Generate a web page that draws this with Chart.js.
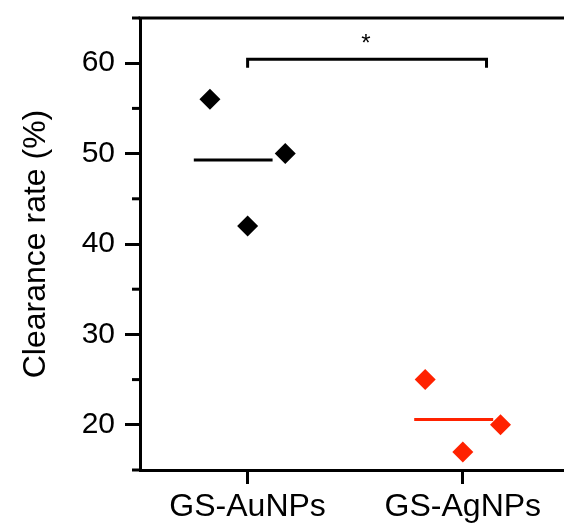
<!DOCTYPE html>
<html>
<head>
<meta charset="utf-8">
<script src="https://cdn.jsdelivr.net/npm/chart.js@4"></script>
<style>
  html, body { margin: 0; padding: 0; background: #ffffff; overflow: hidden; }
  #wrap { width: 564px; height: 527px; position: relative; }
</style>
</head>
<body>
<div id="wrap"><canvas id="c"></canvas></div>
<script>
// ---- data ----
const categories = ['GS-AuNPs', 'GS-AgNPs'];
const auValues = [56, 50, 42];
const agValues = [25, 20, 17];
const pointOffsets = [-0.175, 0.175, 0];      // horizontal scatter of the points within a group
const groupMeans = [49.3, 20.6];
const meanLineStart = [-0.25, -0.226];
const meanLineEnd = [0.116, 0.141];
const yMajorTicks = [20, 30, 40, 50, 60];
const yMinorTicks = [15, 25, 35, 45, 55, 65];
const bracketX = [1, 1, 2.11, 2.11];
const bracketY = [59.5, 60.45, 60.45, 59.5];
const sigLabel = { text: '*', x: 1.55, y: 62.6 };
const yTitle = 'Clearance rate (%)';

const BLACK = '#000000';
const RED = '#ff2200';
const FONT = '"Liberation Sans", Arial, Helvetica, sans-serif';

function groupPoints(values, g) {
  return values.map((v, i) => ({ x: g + 1 + pointOffsets[i], y: v }));
}
function meanLine(g) {
  return [
    { x: g + 1 + meanLineStart[g], y: groupMeans[g] },
    { x: g + 1 + meanLineEnd[g], y: groupMeans[g] }
  ];
}
function noPad(s) {
  s.paddingTop = 0; s.paddingBottom = 0; s.paddingLeft = 0; s.paddingRight = 0;
}

const decor = {
  id: 'decor',
  afterDraw(chart) {
    const ctx = chart.ctx;
    const a = chart.chartArea;
    const y = chart.scales.y;
    const x = chart.scales.x;
    ctx.save();
    ctx.strokeStyle = BLACK;
    ctx.lineWidth = 3;
    // top frame line
    ctx.beginPath();
    ctx.moveTo(a.left - 1.5, a.top);
    ctx.lineTo(chart.width, a.top);
    ctx.stroke();
    // minor y ticks
    yMinorTicks.forEach(v => {
      const py = y.getPixelForValue(v);
      ctx.beginPath();
      ctx.moveTo(a.left - 8, py);
      ctx.lineTo(a.left, py);
      ctx.stroke();
    });
    // significance label
    ctx.fillStyle = BLACK;
    ctx.font = '24px ' + FONT;
    ctx.textAlign = 'center';
    ctx.textBaseline = 'middle';
    ctx.fillText(sigLabel.text, x.getPixelForValue(sigLabel.x), y.getPixelForValue(sigLabel.y) + 5);
    ctx.restore();
  }
};

new Chart(document.getElementById('c'), {
  type: 'scatter',
  data: {
    datasets: [
      {
        label: categories[0],
        data: groupPoints(auValues, 0),
        pointStyle: 'rectRot',
        pointRadius: 10.5,
        backgroundColor: BLACK,
        borderWidth: 0
      },
      {
        label: categories[1],
        data: groupPoints(agValues, 1),
        pointStyle: 'rectRot',
        pointRadius: 10.5,
        backgroundColor: RED,
        borderWidth: 0
      },
      {
        type: 'line',
        label: 'mean Au',
        data: meanLine(0),
        borderColor: BLACK,
        borderWidth: 3,
        pointRadius: 0
      },
      {
        type: 'line',
        label: 'mean Ag',
        data: meanLine(1),
        borderColor: RED,
        borderWidth: 3,
        pointRadius: 0
      },
      {
        type: 'line',
        label: 'bracket',
        data: bracketX.map((bx, i) => ({ x: bx, y: bracketY[i] })),
        borderColor: BLACK,
        borderWidth: 3,
        pointRadius: 0
      }
    ]
  },
  options: {
    responsive: true,
    maintainAspectRatio: false,
    animation: false,
    events: [],
    layout: { autoPadding: false, padding: { top: 18, left: 0, right: 0, bottom: 0 } },
    plugins: {
      legend: { display: false },
      tooltip: { enabled: false }
    },
    scales: {
      x: {
        type: 'linear',
        min: 0.5,
        max: 2.47,
        afterBuildTicks: s => { s.ticks = categories.map((c, i) => ({ value: i + 1 })); },
        afterFit: s => { s.height = 57; noPad(s); },
        ticks: {
          callback: v => categories[Math.round(v) - 1] || '',
          color: BLACK,
          font: { family: FONT, size: 32 },
          padding: 4,
          maxRotation: 0,
          autoSkip: false
        },
        grid: {
          drawOnChartArea: false,
          tickLength: 14,
          tickWidth: 3,
          tickColor: BLACK
        },
        border: { color: BLACK, width: 3 }
      },
      y: {
        min: 15,
        max: 65,
        afterBuildTicks: s => { s.ticks = yMajorTicks.map(v => ({ value: v })); },
        afterFit: s => { s.width = 140; noPad(s); },
        title: {
          display: true,
          text: yTitle,
          color: BLACK,
          font: { family: FONT, size: 32 },
          padding: { top: 17, bottom: 0 }
        },
        ticks: {
          color: BLACK,
          font: { family: FONT, size: 30 },
          padding: 10
        },
        grid: {
          drawOnChartArea: false,
          tickLength: 15,
          tickWidth: 3,
          tickColor: BLACK
        },
        border: { color: BLACK, width: 3 }
      }
    }
  },
  plugins: [decor]
});
</script>
</body>
</html>
